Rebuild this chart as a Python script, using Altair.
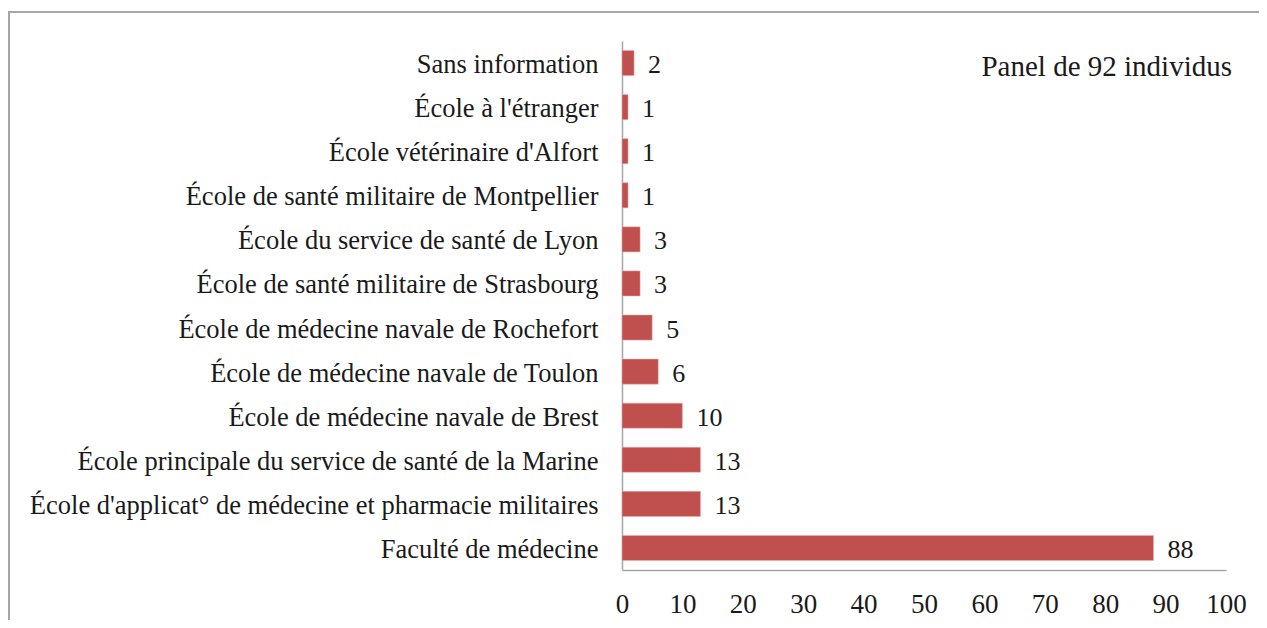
import altair as alt
import pandas as pd

categories = [
    "Sans information",
    "École à l'étranger",
    "École vétérinaire d'Alfort",
    "École de santé militaire de Montpellier",
    "École du service de santé de Lyon",
    "École de santé militaire de Strasbourg",
    "École de médecine navale de Rochefort",
    "École de médecine navale de Toulon",
    "École de médecine navale de Brest",
    "École principale du service de santé de la Marine",
    "École d'applicat° de médecine et pharmacie militaires",
    "Faculté de médecine",
]
values = [2, 1, 1, 1, 3, 3, 5, 6, 10, 13, 13, 88]
x_ticks = [0, 10, 20, 30, 40, 50, 60, 70, 80, 90, 100]
note = "Panel de 92 individus"

df = pd.DataFrame({"cat": categories, "val": values})
FONT = "Liberation Serif"
TXT = "#1a1a1a"

y_enc = alt.Y("cat:N", sort=categories, title=None,
              scale=alt.Scale(paddingInner=0.43, paddingOuter=0.215),
              axis=alt.Axis(labelFont=FONT, labelFontSize=26.5, labelColor=TXT,
                            labelLimit=700, labelPadding=24, ticks=False,
                            labelOffset=2,
                            domainColor="#a6a6a6", domainWidth=1.5))
x_enc = alt.X("val:Q", title=None,
              scale=alt.Scale(domain=[0, 100], nice=False),
              axis=alt.Axis(values=x_ticks, labelFont=FONT, labelFontSize=27,
                            labelColor=TXT, labelPadding=21, ticks=False,
                            grid=False, domainColor="#a6a6a6", domainWidth=1.5,
                            labelFlush=False))

bars = alt.Chart(df).mark_bar(color="#C0504D", stroke="#e8b5b4", strokeWidth=0.5).encode(
    x=x_enc, y=y_enc)

labels = alt.Chart(df).mark_text(align="left", baseline="middle", dx=14, dy=2,
                                 font=FONT, fontSize=26, color=TXT).encode(
    x="val:Q", y=alt.Y("cat:N", sort=categories), text="val:Q")

note_df = pd.DataFrame({"t": [note]})
note_mark = alt.Chart(note_df).mark_text(align="right", baseline="middle",
                                         font=FONT, fontSize=29, color=TXT).encode(
    x=alt.value(610), y=alt.value(26), text="t:N")

border_df = pd.DataFrame({"a": [0]})
top_line = alt.Chart(border_df).mark_rule(color="#a6a6a6", strokeWidth=2).encode(
    x=alt.value(-614), x2=alt.value(700), y=alt.value(-29))
left_line = alt.Chart(border_df).mark_rule(color="#a6a6a6", strokeWidth=2).encode(
    x=alt.value(-613), y=alt.value(-29), y2=alt.value(700))

chart = alt.layer(bars, labels, note_mark, top_line, left_line).properties(
    width=604, height=529,
    autosize=alt.AutoSizeParams(type="none"),
    padding={"left": 614, "top": 33, "right": 33, "bottom": 50},
).configure_view(stroke=None)

chart.save("out.html", embed_options={"renderer": "svg", "actions": False})
